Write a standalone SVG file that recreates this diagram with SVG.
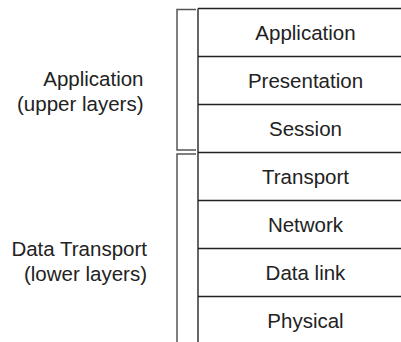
<svg xmlns="http://www.w3.org/2000/svg" width="401" height="342" viewBox="0 0 401 342">
<style>
text{font-family:"Liberation Sans",Arial,sans-serif;font-size:20.5px;fill:#222}
.layer text{text-anchor:middle}
.side text{text-anchor:end}
.rule{stroke:#222;stroke-width:1.6;fill:none}
.edge{stroke:#555;stroke-width:1.8;fill:none}
.brk{stroke:#555;stroke-width:1.5;fill:none}
</style>
<rect width="401" height="342" fill="#fff"/>
<g id="stack-frame">
<line class="edge" x1="198" y1="8.5" x2="198" y2="342"/>
</g>
<g id="layer-application" class="layer"><line class="rule" x1="198" y1="8.5" x2="401" y2="8.5"/><text x="305.5" y="40">Application</text></g>
<g id="layer-presentation" class="layer"><line class="rule" x1="198" y1="56.5" x2="401" y2="56.5"/><text x="305.5" y="88">Presentation</text></g>
<g id="layer-session" class="layer"><line class="rule" x1="198" y1="104.5" x2="401" y2="104.5"/><text x="305.5" y="136">Session</text></g>
<g id="layer-transport" class="layer"><line class="rule" x1="198" y1="152.5" x2="401" y2="152.5"/><text x="305.5" y="184">Transport</text></g>
<g id="layer-network" class="layer"><line class="rule" x1="198" y1="200.5" x2="401" y2="200.5"/><text x="305.5" y="232">Network</text></g>
<g id="layer-datalink" class="layer"><line class="rule" x1="198" y1="248.5" x2="401" y2="248.5"/><text x="305.5" y="280">Data link</text></g>
<g id="layer-physical" class="layer"><line class="rule" x1="198" y1="296.5" x2="401" y2="296.5"/><text x="305.5" y="328">Physical</text></g>
<g id="connectors">
<path class="brk" d="M196,9.5 H177 V150 H196"/>
<path class="brk" d="M196,154 H177 V342"/>
</g>
<g id="group-upper" class="side"><text x="143.5" y="85.5">Application</text><text x="143.5" y="111">(upper layers)</text></g>
<g id="group-lower" class="side"><text x="147" y="255.5">Data Transport</text><text x="147" y="281">(lower layers)</text></g>
</svg>
